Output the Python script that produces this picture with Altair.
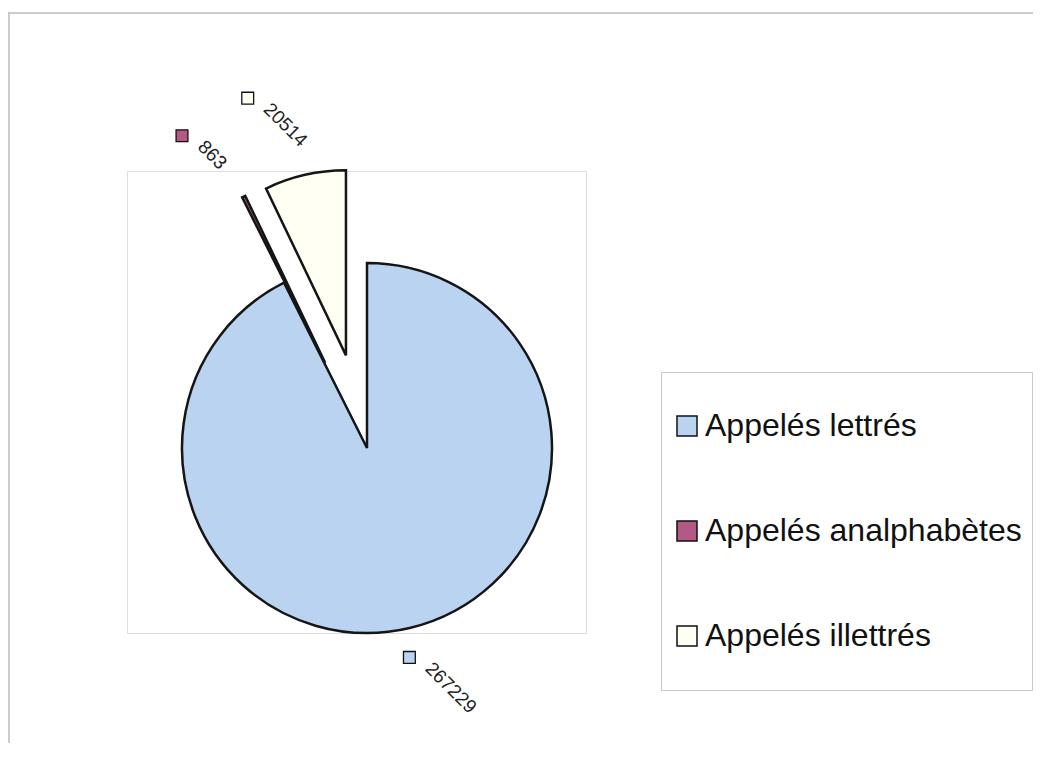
import altair as alt
import pandas as pd

# ---- data ----
categories = ["Appelés lettrés", "Appelés analphabètes", "Appelés illettrés"]
values = [267229, 863, 20514]
colors = ["#b9d3f0", "#b25a83", "#fffff4"]

df = pd.DataFrame({"cat": categories, "value": values, "order": list(range(len(categories)))})

# ---- styling constants (pixels) ----
R = 185.0       # pie radius
EXPL = 95.0     # explosion distance of the small slices
LR = 246.0      # label distance from slice apex
FS = 19         # label font size
W, H = 459, 462 # plot-area box
CX, CY = 240, 277  # pie centre inside plot-area box

xs = alt.Scale(domain=[-CX / R, (W - CX) / R], nice=False, zero=False)
ys = alt.Scale(domain=[-(H - CY) / R, CY / R], nice=False, zero=False)
cscale = alt.Scale(domain=categories, range=colors)

base = (
    alt.Chart(df)
    .transform_joinaggregate(total="sum(value)")
    .transform_window(cum="sum(value)", sort=[alt.SortField("order")], frame=[None, 0])
    .transform_calculate(
        t1="2*PI*datum.cum/datum.total",
        t0="2*PI*(datum.cum-datum.value)/datum.total",
    )
    .transform_calculate(
        mid="(datum.t0+datum.t1)/2",
        ex=f"datum.order > 0 ? {EXPL} : 0",
    )
    .transform_calculate(
        ax="datum.ex*sin(datum.mid)",
        ay="datum.ex*cos(datum.mid)",
        la="datum.mid - 4*PI/180",
        w=f"length(format(datum.value, 'd'))*0.556*{FS}",
    )
    .transform_calculate(
        cx=f"datum.ax/{R}",
        cy=f"datum.ay/{R}",
        sx=f"(datum.ax + {LR}*sin(datum.la) - (0.707*datum.w-21)/2)/{R}",
        sy=f"(datum.ay + {LR}*cos(datum.la) + (0.707*datum.w-10)/2)/{R}",
    )
    .transform_calculate(
        mx=f"datum.sx - 19/{R}",
        my=f"datum.sy + 8/{R}",
    )
)

arcs = base.mark_arc(stroke="#151515", strokeWidth=2.5).encode(
    x=alt.X("cx:Q", scale=xs, axis=None),
    y=alt.Y("cy:Q", scale=ys, axis=None),
    theta=alt.Theta("t0:Q", scale=None),
    theta2=alt.Theta2("t1:Q"),
    radius=alt.value(R),
    color=alt.Color(
        "cat:N",
        scale=cscale,
        sort=categories,
        legend=alt.Legend(
            title=None,
            orient="none",
            legendX=534,
            legendY=201,
            padding=10,
            strokeColor="#c8c8c8",
            fillColor="white",
            symbolType="square",
            symbolSize=400,
            symbolStrokeColor="#111111",
            symbolStrokeWidth=1.5,
            labelFontSize=32,
            labelFont="Liberation Sans",
            labelColor="#111111",
            labelOffset=2,
            labelLimit=600,
            clipHeight=88,
            rowPadding=17,
        ),
    ),
)

markers = base.mark_square(size=140, stroke="#111111", strokeWidth=1.3, opacity=1).encode(
    x=alt.X("mx:Q", scale=xs, axis=None),
    y=alt.Y("my:Q", scale=ys, axis=None),
    color=alt.Color("cat:N", scale=cscale, sort=categories),
)

texts = base.mark_text(
    angle=45, align="left", baseline="middle", fontSize=FS,
    font="Liberation Sans", color="#222222",
).encode(
    x=alt.X("sx:Q", scale=xs, axis=None),
    y=alt.Y("sy:Q", scale=ys, axis=None),
    text=alt.Text("value:Q", format="d"),
)

TOTAL_W, TOTAL_H = 1025, 735
PL, PT = 119, 163
frame_df = pd.DataFrame({"a": [0]})
frame_top = alt.Chart(frame_df).mark_rule(color="#bdbdbd", strokeWidth=1.5).encode(
    x=alt.value(-PL), x2=alt.value(TOTAL_W - PL), y=alt.value(-158)
)
frame_left = alt.Chart(frame_df).mark_rule(color="#bdbdbd", strokeWidth=1.5).encode(
    x=alt.value(-PL + 1), y=alt.value(-158), y2=alt.value(TOTAL_H - PT)
)

chart = (
    alt.layer(frame_top, frame_left, arcs, markers, texts)
    .properties(
        width=W,
        height=H,
        autosize=alt.AutoSizeParams(type="none"),
        padding={"left": PL, "top": PT, "right": TOTAL_W - PL - W, "bottom": TOTAL_H - PT - H},
    )
    .configure_view(stroke="#c8c8c8", strokeWidth=1.5)
    .configure(font="Liberation Sans")
)

chart.save("out.html", embed_options={"renderer": "svg", "actions": False})
